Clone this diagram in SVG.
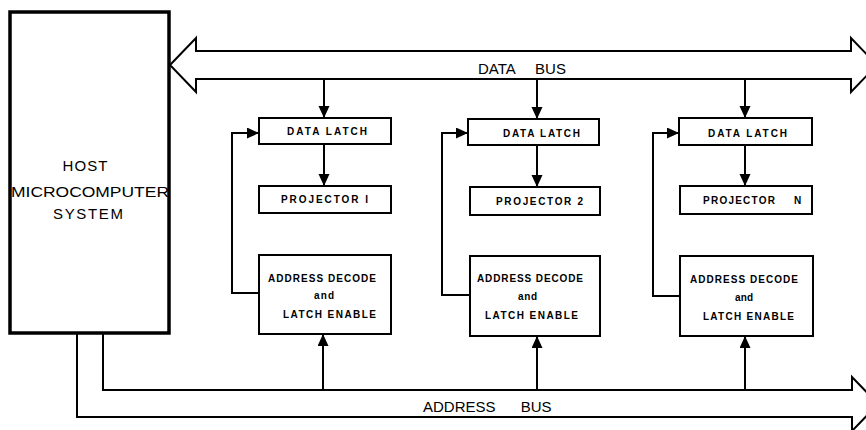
<svg xmlns="http://www.w3.org/2000/svg" width="866" height="430" viewBox="0 0 866 430">
<style>
.box{fill:#fff;stroke:#000;stroke-width:2}
.host{fill:#fff;stroke:#000;stroke-width:3.5}
.bus{fill:#fff;stroke:#000;stroke-width:2;stroke-linejoin:miter}
.arr{fill:none;stroke:#000;stroke-width:2;marker-end:url(#ah)}
.t{font-family:"Liberation Sans",Arial,sans-serif;fill:#000}
.s{font-size:10px;font-weight:bold}
.h{font-size:15px;text-anchor:middle}
.b{font-size:15px}
</style>
<defs>
<marker id="ah" markerUnits="userSpaceOnUse" markerWidth="12" markerHeight="12" refX="12" refY="5.5" orient="auto">
<path d="M0,0 L12,5.5 L0,11 z" fill="#000"/>
</marker>
</defs>
<rect width="866" height="430" fill="#fff"/>
<g id="connectors">
<polygon class="bus" points="170,65 196,38 196,51 851,51 851,38 877,65 851,92 851,79 196,79 196,92"/>
<polyline class="bus" points="103,334 103,390 852,390 852,377 878,404 852,431 852,417 77,417 77,334"/>
<line class="arr" x1="324" y1="79" x2="324" y2="118"/>
<line class="arr" x1="537" y1="79" x2="537" y2="119"/>
<line class="arr" x1="745" y1="79" x2="745" y2="118"/>
<line class="arr" x1="324" y1="144" x2="324" y2="186"/>
<line class="arr" x1="537" y1="145" x2="537" y2="187"/>
<line class="arr" x1="745" y1="145" x2="745" y2="186"/>
<line class="arr" x1="323" y1="390" x2="323" y2="334"/>
<line class="arr" x1="537" y1="390" x2="537" y2="336"/>
<line class="arr" x1="745" y1="390" x2="745" y2="336"/>
<polyline class="arr" points="259,293 232,293 232,133 259,133"/>
<polyline class="arr" points="470,295 442,295 442,133 468,133"/>
<polyline class="arr" points="680,296 653,296 653,133 679,133"/>
<text class="t b" x="478" y="74" word-spacing="16">DATA BUS</text>
<text class="t b" x="423" y="412" word-spacing="21">ADDRESS BUS</text>
</g>
<g id="host">
<rect class="host" x="10" y="12" width="159" height="321"/>
<text class="t h" x="85" y="171" textLength="45">HOST</text>
<text class="t h" x="90" y="197" textLength="158" lengthAdjust="spacingAndGlyphs">MICROCOMPUTER</text>
<text class="t h" x="88" y="219" textLength="70">SYSTEM</text>
</g>
<g id="latch1">
<rect class="box" x="259" y="118" width="132" height="26"/>
<text class="t s" x="287" y="135" textLength="80">DATA LATCH</text>
</g>
<g id="proj1">
<rect class="box" x="259" y="186" width="132" height="27"/>
<text class="t s" x="281" y="203" textLength="87">PROJECTOR   I</text>
</g>
<g id="addr1">
<rect class="box" x="259" y="255" width="132" height="79"/>
<text class="t s" x="268" y="282" textLength="108">ADDRESS DECODE</text>
<text class="t s" x="314" y="299" textLength="20">and</text>
<text class="t s" x="283" y="318" textLength="93">LATCH ENABLE</text>
</g>
<g id="latch2">
<rect class="box" x="468" y="119" width="131" height="26"/>
<text class="t s" x="503" y="137" textLength="77">DATA LATCH</text>
</g>
<g id="proj2">
<rect class="box" x="470" y="187" width="130" height="28"/>
<text class="t s" x="496" y="205" textLength="87">PROJECTOR  2</text>
</g>
<g id="addr2">
<rect class="box" x="470" y="256" width="130" height="80"/>
<text class="t s" x="477" y="282" textLength="106">ADDRESS DECODE</text>
<text class="t s" x="518" y="300" textLength="19">and</text>
<text class="t s" x="485" y="319" textLength="93">LATCH ENABLE</text>
</g>
<g id="latch3">
<rect class="box" x="679" y="118" width="133" height="27"/>
<text class="t s" x="708" y="137" textLength="79">DATA LATCH</text>
</g>
<g id="projN">
<rect class="box" x="680" y="186" width="132" height="28"/>
<text class="t s" y="204"><tspan x="703" textLength="72">PROJECTOR</tspan><tspan x="794">N</tspan></text>
</g>
<g id="addrN">
<rect class="box" x="680" y="256" width="133" height="80"/>
<text class="t s" x="690" y="283" textLength="108">ADDRESS DECODE</text>
<text class="t s" x="735" y="301" textLength="18">and</text>
<text class="t s" x="703" y="320" textLength="91">LATCH ENABLE</text>
</g>
</svg>
